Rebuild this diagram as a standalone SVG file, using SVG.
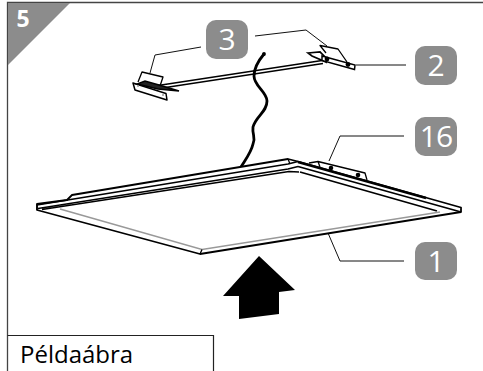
<svg xmlns="http://www.w3.org/2000/svg" width="483" height="371" viewBox="0 0 483 371">
<style>
.badge{fill:#8c8c8c}
.num{fill:#fff;font-family:"Open Sans","Noto Sans",sans-serif;font-size:30px;text-anchor:middle}
.lead{fill:none;stroke:#111;stroke-width:1}
.ink{fill:none;stroke:#000;stroke-width:1.300;stroke-linejoin:round}
.thick{fill:none;stroke:#000;stroke-width:1.800;stroke-linejoin:round}
.gray{fill:none;stroke:#999;stroke-width:1.500}
</style>
<rect width="483" height="371" fill="#fff"/>
<g id="frame">
<path d="M7.500 371V2.500H483" fill="none" stroke="#444" stroke-width="1.300"/>
<path d="M8 3H70L8 65Z" fill="#8c8c8c"/>
<text x="23" y="27" fill="#fff" font-family="'Open Sans','Noto Sans',sans-serif" font-weight="700" font-size="23" text-anchor="middle">5</text>
</g>
<g id="connectors">
<path class="lead" d="M201 47L155 55L150 73"/>
<path class="lead" d="M255 36L306 30L327 46"/>
<path class="lead" d="M356 65H406"/>
<path class="lead" d="M404 136H340L329 161"/>
<path class="lead" d="M404 261H340L328 233"/>
</g>
<g id="node-bar">
<path d="M158 85.500L322 60.500M159 88.500L323 63.500" fill="none" stroke="#000" stroke-width="1.400"/>
<path d="M133 83L166 93.500L167 100L135 90Z" fill="#fff" stroke="#000" stroke-width="1.500" stroke-linejoin="round"/>
<path d="M137 84L158 89L179 91L159 85L145 81Z" fill="#222" stroke="#000" stroke-width="1.500"/>
<circle cx="138" cy="86" r="1" fill="#999"/><circle cx="163" cy="95" r="1" fill="#999"/>
<path class="ink" d="M138 82L142 72L163 77L160 86"/>
<path d="M308 53L320 52L325 57L326 62L312 56Z" fill="#fff" stroke="#000" stroke-width="1.700"/>
<path d="M322 56L355 65L354.500 69.500L322 60.500Z" fill="#fff" stroke="#000" stroke-width="1.500"/>
<circle cx="327" cy="59" r="2.400"/><circle cx="348" cy="64.500" r="2.400"/>
<path class="ink" d="M326 53L320 45.500L338 49L347 62"/>
</g>
<g id="node-cable">
<path d="M264 54C259 60 254 68 254 76C254 86 267 92 267 101C267 112 256 116 253 127C252 135 256 137 253 144C251 153 245 160 241 167" fill="none" stroke="#000" stroke-width="2.800"/>
<circle cx="264" cy="54" r="1.900"/>
</g>
<g id="node-panel">
<path d="M37 204L67 200L72 195L288 159L298 161.500L461 207.500V212L200 254L37 210Z" fill="#fff"/>
<path class="thick" d="M37 204L67 200L72 195L288 159L298 161.500L461 207.500V212L200 254L37 210Z"/>
<path class="ink" d="M37 205L288 164L298 161.500M38 208.500L288 169L298 166.500M42 209.500L289 171.500L299 172"/>
<path class="thick" d="M298 166.500L461 212M300 172L437 211"/>
<path class="gray" d="M60 209L202 249.500L440 212"/>
<path d="M202 249.500L200 254M37 204V210M288 159L290 164" class="ink"/>
</g>
<g id="node-clip">
<path class="ink" d="M309 163L318 161.500L365 173L367 180M318 161.500L320 167"/>
<circle cx="331" cy="168" r="2.300"/><circle cx="358" cy="175" r="2.300"/>
<path d="M298 162L426 198" fill="none" stroke="#000" stroke-width="2.400"/>
</g>
<g id="node-arrow"><path d="M259 256L295 290L279 292L279 314L239 319L239 296L223 296Z" fill="#000"/></g>
<g id="node-3"><rect class="badge" x="206" y="20" width="42" height="39" rx="10"/><text class="num" x="227" y="50">3</text></g>
<g id="node-2"><rect class="badge" x="415" y="46" width="42" height="39" rx="10"/><text class="num" x="436" y="76">2</text></g>
<g id="node-16"><rect class="badge" x="415" y="117" width="42" height="39" rx="10"/><text class="num" x="436" y="147" letter-spacing="-1">16</text></g>
<g id="node-1"><rect class="badge" x="415" y="242" width="42" height="38" rx="10"/><text class="num" x="436" y="272">1</text></g>
<g id="caption">
<path d="M7.500 335.500H213.500V371" fill="none" stroke="#222" stroke-width="1.200"/>
<text x="20" y="363" fill="#000" font-family="'Open Sans','Noto Sans',sans-serif" font-size="24">Példaábra</text>
</g>
</svg>
